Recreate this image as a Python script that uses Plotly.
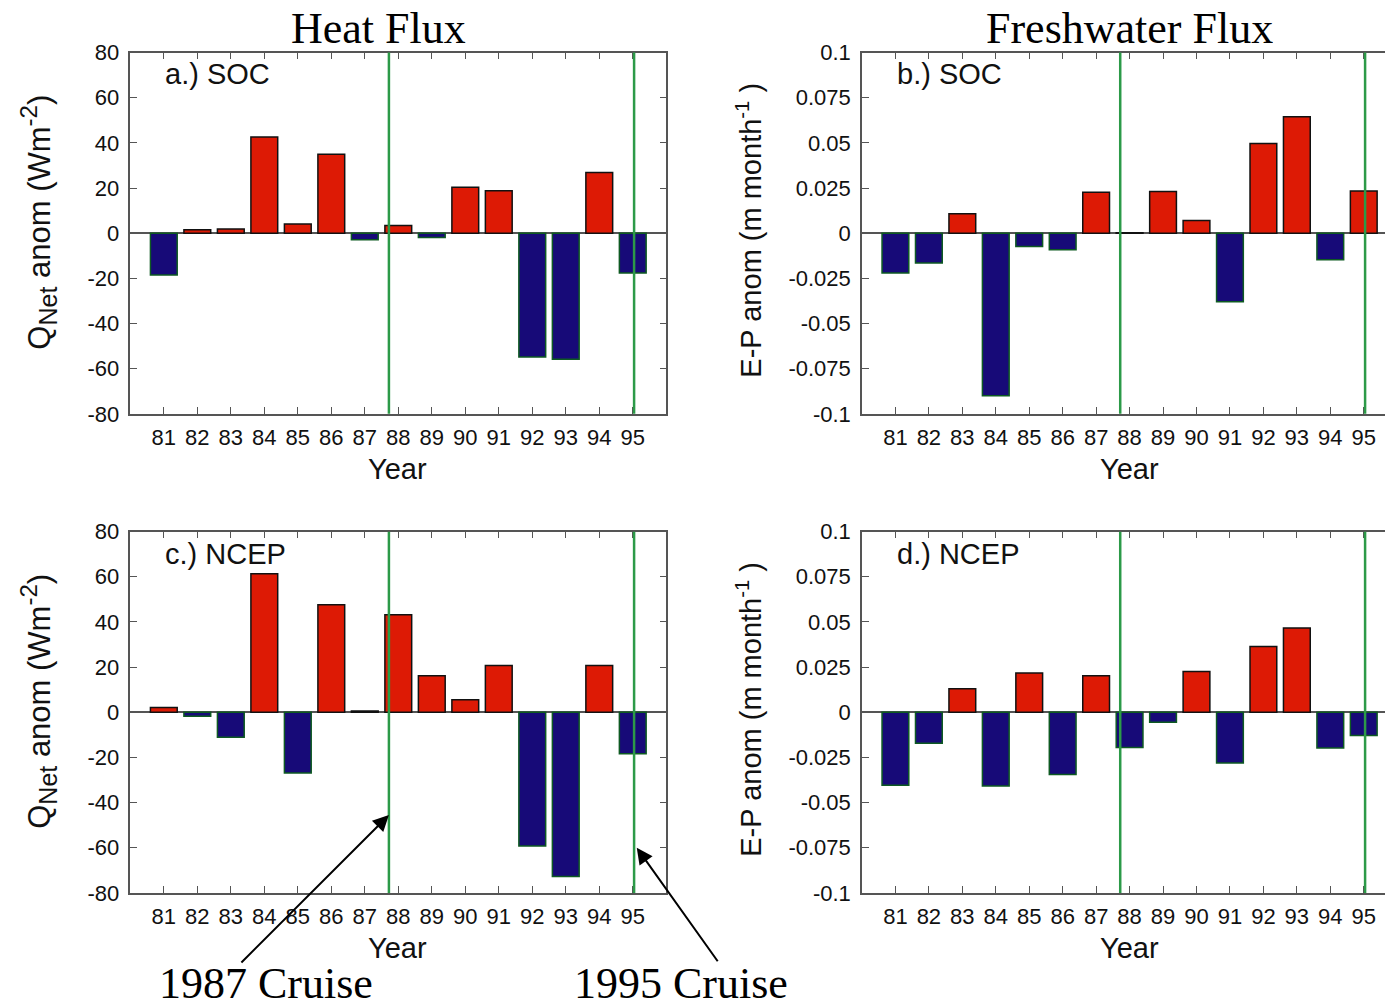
import plotly.graph_objects as go

years = [81, 82, 83, 84, 85, 86, 87, 88, 89, 90, 91, 92, 93, 94, 95]
year_labels = ["81", "82", "83", "84", "85", "86", "87", "88", "89", "90", "91", "92", "93", "94", "95"]

heat_soc = [-18.5, 1.5, 1.9, 42.6, 4.1, 35.0, -2.9, 3.4, -1.9, 20.3, 18.8, -54.8, -55.8, 26.9, -17.6]
fresh_soc = [-0.0220, -0.0165, 0.0107, -0.0900, -0.0073, -0.0092, 0.0226, 0.0003, 0.0231, 0.0070,
             -0.0380, 0.0496, 0.0645, -0.0147, 0.0233]
heat_ncep = [2.1, -1.8, -11.0, 61.4, -26.9, 47.6, 0.6, 43.2, 16.2, 5.6, 20.7, -59.2, -72.7, 20.7, -18.4]
fresh_ncep = [-0.0404, -0.0171, 0.0130, -0.0408, 0.0217, -0.0345, 0.0202, -0.0195, -0.0055, 0.0226,
              -0.0281, 0.0364, 0.0466, -0.0197, -0.0129]

cruise_years = [87.72, 95.04]

heat_ticks = [80, 60, 40, 20, 0, -20, -40, -60, -80]
fresh_ticks = [0.1, 0.075, 0.05, 0.025, 0, -0.025, -0.05, -0.075, -0.1]
fresh_tick_text = ["0.1", "0.075", "0.05", "0.025", "0", "-0.025", "-0.05", "-0.075", "-0.1"]

W, H = 1393, 1006
RED = "#DD1A05"
NAVY = "#170A78"
NEG_EDGE = "#0E5A22"
GREEN = "#2C9A48"
AX = "#555555"
SANS = "Liberation Sans, Arial, sans-serif"
SERIF = "Liberation Serif, Times New Roman, serif"

# map target picture pixels to paper coordinates (page offset compensation)
def px_x(p):
    return (p - 7.5) / W

def px_y(p):
    return 1 - ((p - 20.4) / 0.977) / H

fig = go.Figure()

bx0 = 862.7
panels = [
    (heat_soc, "x", "y", (130, 666.7), (53, 415), [80, 96]),
    (fresh_soc, "x2", "y2", (bx0, 1400.5), (53, 415), [80, 80 + (1400.5 - bx0) / 33.5]),
    (heat_ncep, "x3", "y3", (130, 666.7), (533, 895), [80, 96]),
    (fresh_ncep, "x4", "y4", (bx0, 1400.5), (533, 895), [80, 80 + (1400.5 - bx0) / 33.5]),
]

for i, (vals, xa, ya, xd, yd, xr) in enumerate(panels):
    fills = [RED if v >= 0 else NAVY for v in vals]
    edges = ["#111111" if v >= 0 else NEG_EDGE for v in vals]
    fig.add_trace(go.Bar(
        x=years, y=vals, xaxis=xa, yaxis=ya, width=0.8,
        marker=dict(color=fills, line=dict(color=edges, width=1.5)),
        showlegend=False, hoverinfo="x+y",
    ))
    is_heat = (i % 2 == 0)
    suffix = "" if xa == "x" else xa[1:]
    xkey = "xaxis" + suffix
    ykey = "yaxis" + suffix
    fig.layout[xkey] = dict(
        domain=[px_x(xd[0]), min(1.0, px_x(xd[1]))], range=xr, anchor=ya,
        tickvals=years, ticktext=year_labels, ticks="inside", ticklen=7,
        tickcolor=AX, showline=True, linecolor=AX, linewidth=1.5, mirror="allticks",
        showgrid=False, zeroline=False, ticklabelstandoff=3,
        tickfont=dict(family=SANS, size=22, color="#111111"),
    )
    if is_heat:
        yrange = [-80, 80]
        tv, tt = heat_ticks, [str(t) for t in heat_ticks]
    else:
        yrange = [-0.1, 0.1]
        tv, tt = fresh_ticks, fresh_tick_text
    fig.layout[ykey] = dict(
        domain=[px_y(yd[1]), px_y(yd[0])], range=yrange, anchor=xa,
        tickvals=tv, ticktext=tt, ticks="inside", ticklen=7,
        tickcolor=AX, showline=True, linecolor=AX, linewidth=1.5, mirror="allticks",
        showgrid=False, zeroline=True, zerolinecolor=AX, zerolinewidth=1.5,
        ticklabelstandoff=5,
        tickfont=dict(family=SANS, size=22, color="#111111"),
    )
    for cy in cruise_years:
        fig.add_shape(type="line", xref=xa, yref=ya + " domain", x0=cy, x1=cy, y0=0, y1=1,
                      line=dict(color=GREEN, width=2.5), layer="above")

annotations = []
for txt, cx in [("Heat Flux", 379), ("Freshwater Flux", 1131)]:
    annotations.append(dict(text=txt, x=px_x(cx), y=px_y(28), xref="paper", yref="paper",
                            showarrow=False, font=dict(family=SERIF, size=44, color="#000000"),
                            height=40, xanchor="center", yanchor="middle"))
for lbl, px, py in [("a.) SOC", 163, 75), ("b.) SOC", 896, 75), ("c.) NCEP", 163, 555), ("d.) NCEP", 896, 555)]:
    annotations.append(dict(text=lbl, x=px_x(px), y=px_y(py), xref="paper", yref="paper",
                            showarrow=False, font=dict(family=SANS, size=29, color="#111111"),
                            xanchor="left", yanchor="middle"))
for px, py in [(398, 470), (1131, 470), (398, 950), (1131, 950)]:
    annotations.append(dict(text="Year", x=px_x(px), y=px_y(py), xref="paper", yref="paper",
                            showarrow=False, font=dict(family=SANS, size=29, color="#111111"),
                            xanchor="center", yanchor="middle"))
q_title = ("Q<sub><span style='font-size:25px'>Net</span></sub> anom "
           "(Wm<sup><span style='font-size:24px'>-2</span></sup>)")
ep_title = "E-P anom (m month<sup>-1</sup> )"
for txt, px, py, fs in [(q_title, 38, 223, 31),
                        (ep_title, 750, 231, 29),
                        (q_title, 38, 703, 31),
                        (ep_title, 750, 711, 29)]:
    annotations.append(dict(text=txt, x=px_x(px), y=px_y(py), xref="paper", yref="paper",
                            showarrow=False, textangle=-90,
                            font=dict(family=SANS, size=fs, color="#111111"),
                            xanchor="center", yanchor="middle"))
for txt, cx in [("1987 Cruise", 266), ("1995 Cruise", 681)]:
    annotations.append(dict(text=txt, x=px_x(cx), y=px_y(985), xref="paper", yref="paper",
                            showarrow=False, font=dict(family=SERIF, size=44, color="#000000"),
                            height=40, xanchor="center", yanchor="middle"))
annotations.append(dict(text="", x=cruise_years[0], y=-45.5, xref="x3", yref="y3",
                        showarrow=True, arrowhead=2, arrowsize=1.6, arrowwidth=2, arrowcolor="#000000",
                        ax=-149, ay=149, standoff=0))
annotations.append(dict(text="", x=95.12, y=-60.0, xref="x3", yref="y3",
                        showarrow=True, arrowhead=2, arrowsize=1.6, arrowwidth=2, arrowcolor="#000000",
                        ax=82, ay=115, standoff=0))

fig.update_layout(
    width=W, height=H,
    margin=dict(l=0, r=0, t=0, b=0),
    paper_bgcolor="white", plot_bgcolor="white",
    annotations=annotations, bargap=0.2,
)

fig.write_html("out.html")
